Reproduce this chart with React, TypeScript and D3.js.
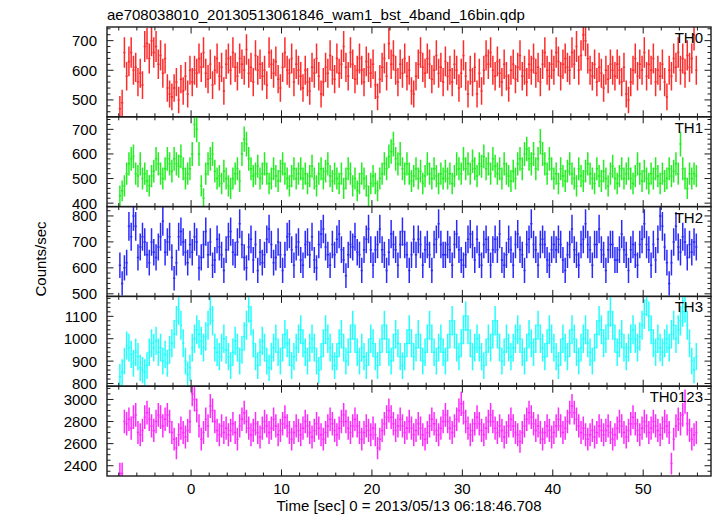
import React from 'react';
import * as d3 from 'd3';

const TITLE = 'ae708038010_20130513061846_wam1_bst_4band_16bin.qdp';
const X_LABEL = 'Time [sec] 0 = 2013/05/13 06:18:46.708';
const Y_LABEL = 'Counts/sec';

const T_START = -8.0;
const BIN = 0.25;
const X_TICKS = [0, 10, 20, 30, 40, 50];

const TH0 = [
  470, 490, 660, 580, 630, 660, 600, 610, 560, 590, 550, 680, 690, 640, 700, 660,
  680, 620, 650, 590, 640, 540, 520, 510, 540, 560, 500, 570, 530, 580, 520, 600,
  560, 600, 590, 640, 610, 660, 590, 570, 620, 550, 600, 640, 580, 610, 530, 620,
  640, 600, 660, 610, 580, 640, 620, 600, 670, 590, 610, 560, 650, 600, 620, 580,
  600, 550, 660, 620, 590, 630, 570, 540, 610, 660, 600, 590, 640, 560, 620, 600,
  580, 540, 600, 560, 530, 610, 590, 640, 580, 520, 560, 610, 590, 650, 600, 570,
  640, 590, 620, 680, 610, 580, 660, 620, 570, 600, 640, 600, 560, 630, 610, 590,
  620, 550, 510, 570, 610, 640, 580, 690, 620, 650, 600, 560, 620, 590, 640, 580,
  600, 530, 520, 580, 620, 660, 610, 590, 640, 620, 570, 600, 650, 590, 610, 560,
  630, 580, 600, 560, 620, 600, 540, 590, 650, 580, 520, 600, 560, 610, 520, 590,
  530, 600, 650, 620, 660, 600, 580, 630, 590, 560, 620, 580, 540, 600, 620, 570,
  610, 650, 580, 600, 560, 620, 600, 640, 590, 610, 560, 620, 660, 600, 580, 620,
  600, 660, 630, 580, 620, 640, 610, 600, 660, 620, 680, 600, 650, 720, 700, 640,
  600, 580, 620, 560, 610, 590, 540, 600, 570, 620, 600, 580, 620, 600, 560, 610,
  520, 500, 560, 600, 640, 580, 620, 600, 660, 580, 620, 600, 640, 560, 600, 580,
  620, 560, 510, 600, 580, 640, 610, 660, 600, 640, 590, 650, 610, 640, 720, 600,
];

const TH1 = [
  430, 450, 470, 520, 560, 580, 590, 520, 510, 560, 500, 520, 490, 470, 510, 530,
  580, 560, 520, 500, 540, 580, 560, 530, 580, 560, 550, 590, 540, 500, 520, 540,
  600, 720, 700, 600, 470, 420, 520, 560, 580, 600, 530, 500, 510, 480, 530, 500,
  470, 460, 500, 520, 540, 490, 600, 660, 640, 580, 540, 510, 520, 550, 500, 520,
  560, 520, 480, 500, 540, 510, 490, 530, 560, 520, 500, 470, 510, 540, 500, 520,
  540, 500, 520, 480, 510, 550, 500, 470, 520, 540, 500, 530, 560, 510, 490, 520,
  500, 480, 520, 460, 500, 540, 520, 470, 500, 450, 480, 520, 500, 470, 430, 480,
  510, 480, 450, 500, 520, 560, 540, 590, 610, 640, 580, 560, 600, 540, 520, 560,
  520, 490, 510, 540, 500, 530, 480, 510, 560, 520, 500, 540, 510, 480, 520, 500,
  530, 500, 520, 480, 510, 560, 540, 520, 580, 540, 560, 520, 570, 540, 510, 560,
  550, 590, 540, 560, 520, 580, 550, 520, 540, 500, 560, 520, 510, 490, 530, 500,
  560, 580, 540, 600, 620, 580, 560, 600, 540, 580, 650, 600, 560, 520, 580, 540,
  500, 520, 480, 540, 510, 490, 530, 560, 520, 500, 470, 540, 510, 490, 530, 560,
  520, 500, 480, 540, 510, 490, 530, 500, 470, 520, 550, 500, 480, 510, 540, 500,
  520, 540, 500, 480, 510, 560, 520, 490, 530, 500, 480, 520, 500, 540, 510, 480,
  520, 490, 500, 540, 510, 530, 560, 520, 640, 540, 500, 460, 520, 500, 520, 510,
];

const TH2 = [
  610, 540, 600, 620, 760, 720, 800, 760, 640, 680, 720, 700, 650, 620, 700, 660,
  640, 680, 720, 780, 660, 700, 720, 640, 560, 620, 720, 740, 700, 660, 620, 690,
  660, 720, 700, 600, 640, 690, 740, 650, 700, 610, 630, 710, 680, 650, 590, 670,
  720, 740, 660, 650, 700, 770, 690, 640, 600, 680, 710, 630, 690, 590, 660, 620,
  650, 710, 750, 690, 620, 640, 700, 650, 590, 650, 720, 730, 670, 610, 680, 700,
  630, 610, 690, 700, 650, 720, 630, 600, 690, 730, 750, 680, 650, 610, 690, 650,
  710, 730, 670, 630, 570, 650, 690, 680, 720, 660, 650, 590, 670, 710, 750, 670,
  610, 670, 690, 750, 670, 650, 590, 660, 730, 690, 670, 610, 690, 740, 690, 650,
  590, 650, 710, 650, 710, 690, 610, 670, 690, 650, 590, 690, 710, 770, 690, 650,
  650, 690, 670, 610, 690, 730, 670, 630, 610, 650, 710, 730, 690, 630, 710, 650,
  610, 690, 710, 670, 610, 670, 710, 670, 730, 630, 610, 650, 710, 670, 610, 690,
  730, 670, 650, 590, 690, 710, 770, 690, 670, 610, 690, 710, 690, 630, 610, 670,
  690, 670, 710, 690, 630, 590, 650, 690, 750, 670, 650, 610, 690, 710, 770, 690,
  670, 610, 690, 690, 750, 670, 650, 590, 670, 690, 690, 630, 630, 670, 730, 670,
  650, 590, 670, 690, 650, 610, 690, 710, 770, 690, 670, 610, 690, 630, 710, 800,
  760, 680, 620, 540, 620, 700, 760, 680, 660, 720, 700, 640, 690, 660, 700, 680,
];

const TH3 = [
  830, 850, 900, 970, 960, 930, 890, 940, 920, 870, 860, 850, 880, 940, 980, 960,
  990, 940, 960, 900, 930, 890, 950, 980, 1020, 1080, 1130, 1060, 980, 900, 840, 870,
  960, 1000, 1040, 1020, 990, 960, 1010, 1060, 1130, 1080, 960, 940, 920, 960, 1000, 950,
  920, 880, 940, 990, 960, 900, 950, 1010, 1060, 1140, 1080, 980, 920, 880, 940, 990,
  960, 900, 870, 920, 960, 1000, 940, 900, 960, 1020, 980, 940, 880, 920, 960, 1000,
  1040, 980, 940, 900, 960, 1000, 960, 900, 860, 920, 980, 1040, 1000, 960, 920, 880,
  920, 980, 1020, 960, 900, 940, 1000, 1060, 1000, 940, 900, 960, 920, 880, 940, 1000,
  980, 920, 880, 940, 1000, 1060, 1000, 940, 900, 960, 1020, 980, 920, 880, 920, 980,
  1040, 980, 920, 960, 1020, 960, 900, 940, 1000, 1060, 1000, 940, 900, 960, 1000, 940,
  900, 960, 1020, 1080, 1020, 960, 920, 980, 1040, 1100, 1040, 980, 920, 960, 1000, 960,
  920, 880, 940, 1000, 960, 1020, 1080, 1020, 960, 900, 940, 1000, 960, 920, 960, 1000,
  1040, 1000, 940, 900, 960, 1020, 980, 940, 1000, 1060, 1000, 960, 920, 980, 1040, 1000,
  960, 920, 880, 940, 1000, 960, 920, 980, 1040, 1000, 940, 900, 960, 1000, 1040, 980,
  940, 900, 960, 1020, 1080, 1040, 980, 1000, 1060, 1120, 1060, 1000, 940, 980, 1020, 960,
  920, 960, 1000, 1040, 1000, 960, 1010, 1060, 1110, 1170, 1100, 1040, 980, 940, 1000, 960,
  940, 980, 1000, 960, 1020, 1060, 1000, 1040, 1080, 1120, 1140, 1060, 980, 900, 860, 920,
];

const TH0123 = [
  2330, 2330, 2800, 2780, 2820, 2740, 2840, 2860, 2700, 2680, 2720, 2840, 2880, 2820, 2760, 2720,
  2800, 2860, 2840, 2760, 2820, 2860, 2800, 2700, 2640, 2560, 2680, 2740, 2700, 2660, 2720, 2800,
  3050, 3000, 2900, 2760, 2640, 2700, 2820, 2760, 2940, 2900, 2800, 2720, 2680, 2760, 2700, 2740,
  2680, 2720, 2780, 2700, 2640, 2760, 2820, 2880, 2800, 2740, 2680, 2720, 2780, 2700, 2660, 2740,
  2800, 2760, 2700, 2740, 2820, 2760, 2680, 2720, 2780, 2840, 2760, 2700, 2640, 2700, 2760, 2720,
  2680, 2740, 2800, 2760, 2700, 2660, 2720, 2780, 2740, 2680, 2640, 2700, 2760, 2820, 2780, 2720,
  2680, 2740, 2800, 2860, 2800, 2740, 2700, 2760, 2820, 2760, 2700, 2640, 2700, 2760, 2720, 2680,
  2740, 2680, 2560, 2640, 2720, 2780, 2840, 2900, 2840, 2780, 2720, 2760, 2820, 2760, 2700, 2740,
  2800, 2740, 2680, 2720, 2780, 2740, 2680, 2640, 2700, 2760, 2820, 2780, 2720, 2680, 2740, 2800,
  2860, 2800, 2740, 2700, 2760, 2820, 2900, 2960, 2880, 2800, 2740, 2680, 2720, 2780, 2840, 2780,
  2720, 2680, 2740, 2800, 2860, 2800, 2740, 2700, 2760, 2720, 2660, 2700, 2760, 2820, 2760, 2700,
  2680, 2620, 2700, 2760, 2820, 2880, 2840, 2780, 2720, 2760, 2700, 2640, 2700, 2760, 2720, 2660,
  2700, 2760, 2820, 2760, 2700, 2740, 2800, 2880, 2940, 2880, 2820, 2760, 2700, 2740, 2680, 2640,
  2680, 2720, 2660, 2700, 2760, 2720, 2680, 2720, 2760, 2700, 2640, 2680, 2740, 2800, 2760, 2700,
  2660, 2720, 2780, 2840, 2780, 2720, 2680, 2740, 2800, 2760, 2700, 2740, 2800, 2760, 2720, 2680,
  2740, 2800, 2760, 2700, 2420, 2640, 2760, 2820, 2780, 2860, 2980, 2780, 2720, 2640, 2680, 2700,
];

const PANEL_NAMES = ['TH0', 'TH1', 'TH2', 'TH3', 'TH0123'];
const PANEL_VALUES = [TH0, TH1, TH2, TH3, TH0123];
const PANEL_COLORS = ['#ff2a2a', '#22ee22', '#2a2aff', '#22ffff', '#ff2aff'];
const PANEL_DOMAINS: [number, number][] = [[443, 746], [386, 751], [490, 836], [788, 1189], [2307, 3120]];
const PANEL_MAJOR = [100, 100, 100, 100, 200];
const PANEL_MINOR = [20, 20, 20, 20, 50];

const W = 717;
const H = 516;
const PL = 107;
const PR = 711;
const PT = 27;
const PB = 476;
const PH = (PB - PT) / 5;
const FONT = '"Liberation Sans", Arial, Helvetica, sans-serif';
const AXIS = '#1a1a1a';

function multiples(lo: number, hi: number, step: number) {
  const out: number[] = [];
  for (let v = Math.ceil(lo / step) * step; v <= hi + 1e-9; v += step) out.push(v);
  return out;
}

export default function App() {
  const x = d3.scaleLinear().domain([-9.3, 57.5]).range([PL, PR]);
  const xMinor = multiples(-9.3, 57.5, 2);
  const xMajor = X_TICKS;

  return (
    <svg width={W} height={H} style={{ display: 'block', position: 'absolute', left: 0, top: 0, background: '#fff' }}
      fontFamily={FONT}>
      <rect x={0} y={0} width={W} height={H} fill="#fff" />
      <defs>
        {PANEL_NAMES.map((n, i) => (
          <clipPath id={`clip${i}`} key={n}>
            <rect x={PL} y={PT + i * PH} width={PR - PL} height={PH} />
          </clipPath>
        ))}
      </defs>
      <text x={PL} y={20} fontSize={15} fill="#000">{TITLE}</text>
      {PANEL_NAMES.map((name, i) => {
        const top = PT + i * PH;
        const bot = top + PH;
        const y = d3.scaleLinear().domain(PANEL_DOMAINS[i]).range([bot, top]);
        const vals = PANEL_VALUES[i];
        const major = multiples(PANEL_DOMAINS[i][0], PANEL_DOMAINS[i][1], PANEL_MAJOR[i]);
        const minor = multiples(PANEL_DOMAINS[i][0], PANEL_DOMAINS[i][1], PANEL_MINOR[i]);
        const color = PANEL_COLORS[i];
        let path = '';
        vals.forEach((v, k) => {
          const t0 = T_START + k * BIN;
          const tc = t0 + BIN / 2;
          const e = Math.sqrt(v * BIN) / BIN;
          path += `M${x(t0)},${y(v)}H${x(t0 + BIN)}`;
          path += `M${x(tc)},${y(v - e)}V${y(v + e)}`;
        });
        return (
          <g key={name}>
            <g clipPath={`url(#clip${i})`}>
              <path d={path} stroke={color} strokeWidth={1.5} fill="none" />
            </g>
            {minor.map((v) => {
              const isMaj = major.some((m) => Math.abs(m - v) < 1e-6);
              const len = isMaj ? 6.5 : 3.5;
              return (
                <g key={`yt${v}`} stroke={AXIS} strokeWidth={1}>
                  <line x1={PL} x2={PL + len} y1={y(v)} y2={y(v)} />
                  <line x1={PR} x2={PR - len} y1={y(v)} y2={y(v)} />
                </g>
              );
            })}
            {major.map((v) => (
              <text key={`yl${v}`} x={97} y={y(v)} dy="0.36em" textAnchor="end" fontSize={15} fill="#000">
                {v}
              </text>
            ))}
            {xMinor.map((t) => {
              const isMaj = xMajor.includes(t);
              const len = isMaj ? 6.5 : 3.5;
              return (
                <g key={`xt${t}`} stroke={AXIS} strokeWidth={1}>
                  <line x1={x(t)} x2={x(t)} y1={top} y2={top + len} />
                  <line x1={x(t)} x2={x(t)} y1={bot} y2={bot - len} />
                </g>
              );
            })}
            <rect x={PL} y={top} width={PR - PL} height={PH} fill="none" stroke={AXIS} strokeWidth={1.4} />
            <text x={703} y={top + 16} textAnchor="end" fontSize={15} fill="#000">{name}</text>
          </g>
        );
      })}
      {xMajor.map((t) => (
        <text key={`xl${t}`} x={x(t)} y={494} textAnchor="middle" fontSize={15} fill="#000">{t}</text>
      ))}
      <text x={(PL + PR) / 2} y={511} textAnchor="middle" fontSize={15} fill="#000">{X_LABEL}</text>
      <text transform={`translate(46,259) rotate(-90)`} textAnchor="middle" fontSize={15} fill="#000">{Y_LABEL}</text>
    </svg>
  );
}
